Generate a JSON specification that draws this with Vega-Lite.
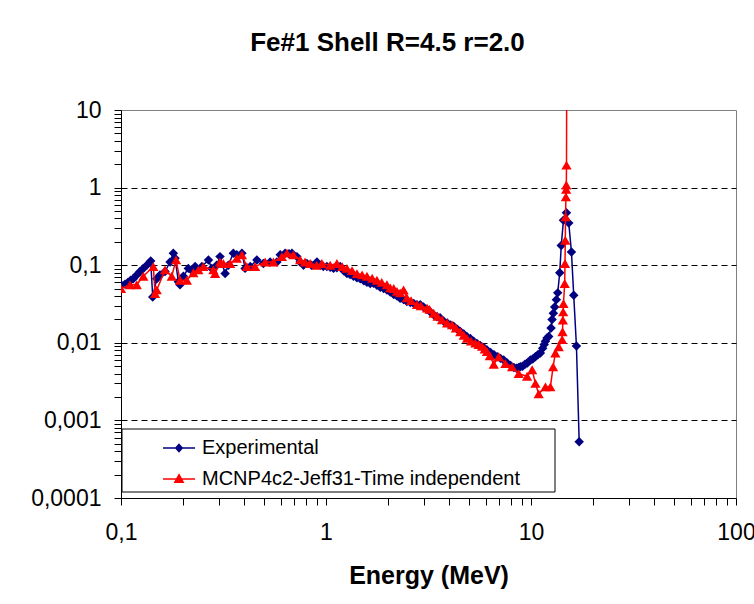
{
  "$schema": "https://vega.github.io/schema/vega-lite/v6.json",
  "width": 615,
  "height": 388,
  "autosize": {"type": "none"},
  "padding": {"left": 121, "top": 110, "right": 18, "bottom": 106},
  "background": "#ffffff",
  "config": {
    "view": {"stroke": "#808080", "strokeWidth": 1},
    "font": "Liberation Sans"
  },
  "title": {
    "text": "Fe#1 Shell R=4.5 r=2.0",
    "font": "Liberation Sans",
    "fontSize": 26,
    "fontWeight": "bold",
    "color": "#000000",
    "anchor": "middle",
    "baseline": "alphabetic",
    "dx": -41,
    "offset": 22
  },
  "datasets": {
    "exp": [
      {"series":"Experimental","E":0.1,"v":0.056},{"series":"Experimental","E":0.1046,"v":0.057},{"series":"Experimental","E":0.108,"v":0.06},{"series":"Experimental","E":0.1115,"v":0.064},{"series":"Experimental","E":0.1148,"v":0.067},{"series":"Experimental","E":0.119,"v":0.074},{"series":"Experimental","E":0.1238,"v":0.083},{"series":"Experimental","E":0.128,"v":0.09},{"series":"Experimental","E":0.1335,"v":0.1},{"series":"Experimental","E":0.1396,"v":0.113},{"series":"Experimental","E":0.1428,"v":0.039},{"series":"Experimental","E":0.1494,"v":0.067},{"series":"Experimental","E":0.155,"v":0.075},{"series":"Experimental","E":0.164,"v":0.083},{"series":"Experimental","E":0.1735,"v":0.11},{"series":"Experimental","E":0.18,"v":0.143},{"series":"Experimental","E":0.1835,"v":0.123},{"series":"Experimental","E":0.1905,"v":0.061},{"series":"Experimental","E":0.194,"v":0.056},{"series":"Experimental","E":0.2015,"v":0.072},{"series":"Experimental","E":0.213,"v":0.091},{"series":"Experimental","E":0.222,"v":0.085},{"series":"Experimental","E":0.23,"v":0.096},{"series":"Experimental","E":0.248,"v":0.096},{"series":"Experimental","E":0.267,"v":0.117},{"series":"Experimental","E":0.277,"v":0.091},{"series":"Experimental","E":0.293,"v":0.1},{"series":"Experimental","E":0.304,"v":0.129},{"series":"Experimental","E":0.322,"v":0.078},{"series":"Experimental","E":0.334,"v":0.1},{"series":"Experimental","E":0.353,"v":0.143},{"series":"Experimental","E":0.367,"v":0.136},{"series":"Experimental","E":0.389,"v":0.143},{"series":"Experimental","E":0.403,"v":0.091},{"series":"Experimental","E":0.427,"v":0.096},{"series":"Experimental","E":0.46,"v":0.117},{"series":"Experimental","E":0.495,"v":0.105},{"series":"Experimental","E":0.534,"v":0.11},{"series":"Experimental","E":0.576,"v":0.11},{"series":"Experimental","E":0.598,"v":0.136},{"series":"Experimental","E":0.632,"v":0.143},{"series":"Experimental","E":0.66,"v":0.14},{"series":"Experimental","E":0.682,"v":0.143},{"series":"Experimental","E":0.721,"v":0.129},{"series":"Experimental","E":0.748,"v":0.11},{"series":"Experimental","E":0.777,"v":0.1},{"series":"Experimental","E":0.807,"v":0.105},{"series":"Experimental","E":0.85,"v":0.1},{"series":"Experimental","E":0.903,"v":0.11},{"series":"Experimental","E":0.937,"v":0.1},{"series":"Experimental","E":0.97,"v":0.096},{"series":"Experimental","E":1.01,"v":0.096},{"series":"Experimental","E":1.048,"v":0.094},{"series":"Experimental","E":1.088,"v":0.091},{"series":"Experimental","E":1.13,"v":0.093},{"series":"Experimental","E":1.173,"v":0.096},{"series":"Experimental","E":1.22,"v":0.085},{"series":"Experimental","E":1.265,"v":0.078},{"series":"Experimental","E":1.31,"v":0.076},{"series":"Experimental","E":1.362,"v":0.072},{"series":"Experimental","E":1.416,"v":0.069},{"series":"Experimental","E":1.469,"v":0.067},{"series":"Experimental","E":1.53,"v":0.063},{"series":"Experimental","E":1.584,"v":0.0605},{"series":"Experimental","E":1.644,"v":0.058},{"series":"Experimental","E":1.706,"v":0.0585},{"series":"Experimental","E":1.772,"v":0.055},{"series":"Experimental","E":1.839,"v":0.052},{"series":"Experimental","E":1.91,"v":0.05},{"series":"Experimental","E":1.983,"v":0.048},{"series":"Experimental","E":2.058,"v":0.045},{"series":"Experimental","E":2.14,"v":0.042},{"series":"Experimental","E":2.22,"v":0.04},{"series":"Experimental","E":2.3,"v":0.0376},{"series":"Experimental","E":2.39,"v":0.036},{"series":"Experimental","E":2.48,"v":0.034},{"series":"Experimental","E":2.58,"v":0.033},{"series":"Experimental","E":2.68,"v":0.032},{"series":"Experimental","E":2.78,"v":0.031},{"series":"Experimental","E":2.884,"v":0.031},{"series":"Experimental","E":2.99,"v":0.029},{"series":"Experimental","E":3.11,"v":0.027},{"series":"Experimental","E":3.23,"v":0.025},{"series":"Experimental","E":3.35,"v":0.023},{"series":"Experimental","E":3.48,"v":0.0216},{"series":"Experimental","E":3.6,"v":0.021},{"series":"Experimental","E":3.75,"v":0.019},{"series":"Experimental","E":3.9,"v":0.018},{"series":"Experimental","E":4.05,"v":0.017},{"series":"Experimental","E":4.195,"v":0.0163},{"series":"Experimental","E":4.37,"v":0.015},{"series":"Experimental","E":4.52,"v":0.014},{"series":"Experimental","E":4.7,"v":0.013},{"series":"Experimental","E":4.875,"v":0.012},{"series":"Experimental","E":5.06,"v":0.0114},{"series":"Experimental","E":5.25,"v":0.0105},{"series":"Experimental","E":5.45,"v":0.0098},{"series":"Experimental","E":5.65,"v":0.0092},{"series":"Experimental","E":5.88,"v":0.0087},{"series":"Experimental","E":6.1,"v":0.0081},{"series":"Experimental","E":6.35,"v":0.0075},{"series":"Experimental","E":6.6,"v":0.007},{"series":"Experimental","E":6.85,"v":0.0066},{"series":"Experimental","E":7.1,"v":0.0063},{"series":"Experimental","E":7.36,"v":0.006},{"series":"Experimental","E":7.65,"v":0.0055},{"series":"Experimental","E":7.95,"v":0.0051},{"series":"Experimental","E":8.25,"v":0.0048},{"series":"Experimental","E":8.5,"v":0.0047},{"series":"Experimental","E":8.71,"v":0.0048},{"series":"Experimental","E":8.88,"v":0.0049},{"series":"Experimental","E":9.1,"v":0.005},{"series":"Experimental","E":9.35,"v":0.0053},{"series":"Experimental","E":9.6,"v":0.0055},{"series":"Experimental","E":9.93,"v":0.006},{"series":"Experimental","E":10.2,"v":0.0062},{"series":"Experimental","E":10.5,"v":0.0066},{"series":"Experimental","E":10.8,"v":0.007},{"series":"Experimental","E":11.11,"v":0.0074},{"series":"Experimental","E":11.4,"v":0.0085},{"series":"Experimental","E":11.6,"v":0.0095},{"series":"Experimental","E":11.76,"v":0.0105},{"series":"Experimental","E":11.98,"v":0.0115},{"series":"Experimental","E":12.2,"v":0.0121},{"series":"Experimental","E":12.53,"v":0.0155},{"series":"Experimental","E":12.67,"v":0.02},{"series":"Experimental","E":12.85,"v":0.024},{"series":"Experimental","E":13.05,"v":0.029},{"series":"Experimental","E":13.3,"v":0.036},{"series":"Experimental","E":13.5,"v":0.044},{"series":"Experimental","E":13.81,"v":0.08},{"series":"Experimental","E":14.05,"v":0.18},{"series":"Experimental","E":14.4,"v":0.38},{"series":"Experimental","E":14.89,"v":0.475},{"series":"Experimental","E":15.28,"v":0.35},{"series":"Experimental","E":15.75,"v":0.148},{"series":"Experimental","E":16.16,"v":0.041},{"series":"Experimental","E":16.66,"v":0.0091},{"series":"Experimental","E":17.18,"v":0.00053}
    ],
    "mc": [
      {"series":"MCNP4c2-Jeff31-Time independent","E":0.1,"v":0.05},{"series":"MCNP4c2-Jeff31-Time independent","E":0.1106,"v":0.056},{"series":"MCNP4c2-Jeff31-Time independent","E":0.1193,"v":0.056},{"series":"MCNP4c2-Jeff31-Time independent","E":0.1285,"v":0.072},{"series":"MCNP4c2-Jeff31-Time independent","E":0.1438,"v":0.096},{"series":"MCNP4c2-Jeff31-Time independent","E":0.1466,"v":0.043},{"series":"MCNP4c2-Jeff31-Time independent","E":0.1494,"v":0.048},{"series":"MCNP4c2-Jeff31-Time independent","E":0.164,"v":0.087},{"series":"MCNP4c2-Jeff31-Time independent","E":0.1768,"v":0.072},{"series":"MCNP4c2-Jeff31-Time independent","E":0.1856,"v":0.117},{"series":"MCNP4c2-Jeff31-Time independent","E":0.194,"v":0.064},{"series":"MCNP4c2-Jeff31-Time independent","E":0.2094,"v":0.064},{"series":"MCNP4c2-Jeff31-Time independent","E":0.2254,"v":0.08},{"series":"MCNP4c2-Jeff31-Time independent","E":0.2385,"v":0.087},{"series":"MCNP4c2-Jeff31-Time independent","E":0.2522,"v":0.096},{"series":"MCNP4c2-Jeff31-Time independent","E":0.2823,"v":0.087},{"series":"MCNP4c2-Jeff31-Time independent","E":0.2877,"v":0.078},{"series":"MCNP4c2-Jeff31-Time independent","E":0.304,"v":0.11},{"series":"MCNP4c2-Jeff31-Time independent","E":0.3158,"v":0.105},{"series":"MCNP4c2-Jeff31-Time independent","E":0.3406,"v":0.105},{"series":"MCNP4c2-Jeff31-Time independent","E":0.367,"v":0.123},{"series":"MCNP4c2-Jeff31-Time independent","E":0.389,"v":0.136},{"series":"MCNP4c2-Jeff31-Time independent","E":0.411,"v":0.096},{"series":"MCNP4c2-Jeff31-Time independent","E":0.451,"v":0.096},{"series":"MCNP4c2-Jeff31-Time independent","E":0.505,"v":0.11},{"series":"MCNP4c2-Jeff31-Time independent","E":0.554,"v":0.11},{"series":"MCNP4c2-Jeff31-Time independent","E":0.609,"v":0.129},{"series":"MCNP4c2-Jeff31-Time independent","E":0.645,"v":0.143},{"series":"MCNP4c2-Jeff31-Time independent","E":0.694,"v":0.136},{"series":"MCNP4c2-Jeff31-Time independent","E":0.748,"v":0.117},{"series":"MCNP4c2-Jeff31-Time independent","E":0.79,"v":0.11},{"series":"MCNP4c2-Jeff31-Time independent","E":0.837,"v":0.105},{"series":"MCNP4c2-Jeff31-Time independent","E":0.9,"v":0.1},{"series":"MCNP4c2-Jeff31-Time independent","E":0.955,"v":0.105},{"series":"MCNP4c2-Jeff31-Time independent","E":1.048,"v":0.1},{"series":"MCNP4c2-Jeff31-Time independent","E":1.13,"v":0.105},{"series":"MCNP4c2-Jeff31-Time independent","E":1.2,"v":0.096},{"series":"MCNP4c2-Jeff31-Time independent","E":1.265,"v":0.091},{"series":"MCNP4c2-Jeff31-Time independent","E":1.34,"v":0.085},{"series":"MCNP4c2-Jeff31-Time independent","E":1.416,"v":0.078},{"series":"MCNP4c2-Jeff31-Time independent","E":1.5,"v":0.075},{"series":"MCNP4c2-Jeff31-Time independent","E":1.584,"v":0.072},{"series":"MCNP4c2-Jeff31-Time independent","E":1.68,"v":0.068},{"series":"MCNP4c2-Jeff31-Time independent","E":1.772,"v":0.064},{"series":"MCNP4c2-Jeff31-Time independent","E":1.87,"v":0.06},{"series":"MCNP4c2-Jeff31-Time independent","E":1.983,"v":0.056},{"series":"MCNP4c2-Jeff31-Time independent","E":2.058,"v":0.051},{"series":"MCNP4c2-Jeff31-Time independent","E":2.14,"v":0.05},{"series":"MCNP4c2-Jeff31-Time independent","E":2.22,"v":0.046},{"series":"MCNP4c2-Jeff31-Time independent","E":2.3,"v":0.044},{"series":"MCNP4c2-Jeff31-Time independent","E":2.39,"v":0.048},{"series":"MCNP4c2-Jeff31-Time independent","E":2.48,"v":0.038},{"series":"MCNP4c2-Jeff31-Time independent","E":2.6,"v":0.035},{"series":"MCNP4c2-Jeff31-Time independent","E":2.78,"v":0.031},{"series":"MCNP4c2-Jeff31-Time independent","E":2.9,"v":0.03},{"series":"MCNP4c2-Jeff31-Time independent","E":3.11,"v":0.028},{"series":"MCNP4c2-Jeff31-Time independent","E":3.2,"v":0.027},{"series":"MCNP4c2-Jeff31-Time independent","E":3.35,"v":0.024},{"series":"MCNP4c2-Jeff31-Time independent","E":3.5,"v":0.022},{"series":"MCNP4c2-Jeff31-Time independent","E":3.68,"v":0.0198},{"series":"MCNP4c2-Jeff31-Time independent","E":3.9,"v":0.018},{"series":"MCNP4c2-Jeff31-Time independent","E":4.12,"v":0.017},{"series":"MCNP4c2-Jeff31-Time independent","E":4.3,"v":0.0155},{"series":"MCNP4c2-Jeff31-Time independent","E":4.52,"v":0.0139},{"series":"MCNP4c2-Jeff31-Time independent","E":4.7,"v":0.0125},{"series":"MCNP4c2-Jeff31-Time independent","E":4.875,"v":0.0114},{"series":"MCNP4c2-Jeff31-Time independent","E":5.1,"v":0.0105},{"series":"MCNP4c2-Jeff31-Time independent","E":5.35,"v":0.0099},{"series":"MCNP4c2-Jeff31-Time independent","E":5.55,"v":0.0095},{"series":"MCNP4c2-Jeff31-Time independent","E":5.77,"v":0.009},{"series":"MCNP4c2-Jeff31-Time independent","E":5.95,"v":0.0083},{"series":"MCNP4c2-Jeff31-Time independent","E":6.1,"v":0.0077},{"series":"MCNP4c2-Jeff31-Time independent","E":6.3,"v":0.0068},{"series":"MCNP4c2-Jeff31-Time independent","E":6.58,"v":0.0053},{"series":"MCNP4c2-Jeff31-Time independent","E":6.96,"v":0.0066},{"series":"MCNP4c2-Jeff31-Time independent","E":7.5,"v":0.0054},{"series":"MCNP4c2-Jeff31-Time independent","E":8.09,"v":0.0049},{"series":"MCNP4c2-Jeff31-Time independent","E":8.71,"v":0.004},{"series":"MCNP4c2-Jeff31-Time independent","E":9.57,"v":0.0037},{"series":"MCNP4c2-Jeff31-Time independent","E":10.13,"v":0.0045},{"series":"MCNP4c2-Jeff31-Time independent","E":10.51,"v":0.003},{"series":"MCNP4c2-Jeff31-Time independent","E":10.9,"v":0.0022},{"series":"MCNP4c2-Jeff31-Time independent","E":11.76,"v":0.0027},{"series":"MCNP4c2-Jeff31-Time independent","E":12.43,"v":0.0027},{"series":"MCNP4c2-Jeff31-Time independent","E":12.82,"v":0.0049},{"series":"MCNP4c2-Jeff31-Time independent","E":13.15,"v":0.0074},{"series":"MCNP4c2-Jeff31-Time independent","E":13.65,"v":0.0089},{"series":"MCNP4c2-Jeff31-Time independent","E":14.19,"v":0.011},{"series":"MCNP4c2-Jeff31-Time independent","E":14.25,"v":0.0139},{"series":"MCNP4c2-Jeff31-Time independent","E":14.3,"v":0.0196},{"series":"MCNP4c2-Jeff31-Time independent","E":14.35,"v":0.025},{"series":"MCNP4c2-Jeff31-Time independent","E":14.4,"v":0.032},{"series":"MCNP4c2-Jeff31-Time independent","E":14.6,"v":0.058},{"series":"MCNP4c2-Jeff31-Time independent","E":14.65,"v":0.105},{"series":"MCNP4c2-Jeff31-Time independent","E":14.7,"v":0.21},{"series":"MCNP4c2-Jeff31-Time independent","E":14.75,"v":0.42},{"series":"MCNP4c2-Jeff31-Time independent","E":14.8,"v":0.76},{"series":"MCNP4c2-Jeff31-Time independent","E":14.85,"v":0.95},{"series":"MCNP4c2-Jeff31-Time independent","E":14.87,"v":1.08},{"series":"MCNP4c2-Jeff31-Time independent","E":14.9,"v":1.95},{"series":"MCNP4c2-Jeff31-Time independent","E":14.95,"v":100}
    ]
  },
  "encoding": {
    "x": {
      "field": "E",
      "type": "quantitative",
      "scale": {"type": "log", "domain": [0.1, 100], "nice": false},
      "axis": {
        "values": [0.1,0.2,0.3,0.4,0.5,0.6,0.7,0.8,0.9,1,2,3,4,5,6,7,8,9,10,20,30,40,50,60,70,80,90,100],
        "labelExpr": "indexof([0.1,1,10,100], datum.value) >= 0 ? replace(toString(datum.value), '.', ',') : ''",
        "title": "Energy (MeV)",
        "titleFont": "Liberation Sans",
        "titleFontSize": 25,
        "titleFontWeight": "bold",
        "titleColor": "#000000",
        "titlePadding": 19,
        "labelFont": "Liberation Sans",
        "labelFontSize": 23,
        "labelColor": "#000000",
        "labelPadding": 16,
        "labelOverlap": false,
        "labelBound": false,
        "labelFlush": false,
        "tickSize": 7,
        "tickColor": "#000000",
        "tickWidth": 1,
        "domainColor": "#000000",
        "domainWidth": 1,
        "grid": false,
        "encode": {
          "ticks": {
            "update": {
              "y": {"signal": "-6"},
              "y2": {"signal": "indexof([0.1,1,10,100], datum.value) >= 0 ? 7 : 0"}
            }
          }
        }
      }
    },
    "y": {
      "field": "v",
      "type": "quantitative",
      "scale": {"type": "log", "domain": [0.0001, 10], "nice": false},
      "axis": {
        "values": [0.0001,0.0002,0.0003,0.0004,0.0005,0.0006,0.0007,0.0008,0.0009,0.001,0.002,0.003,0.004,0.005,0.006,0.007,0.008,0.009,0.01,0.02,0.03,0.04,0.05,0.06,0.07,0.08,0.09,0.1,0.2,0.3,0.4,0.5,0.6,0.7,0.8,0.9,1,2,3,4,5,6,7,8,9,10],
        "labelExpr": "indexof([0.0001,0.001,0.01,0.1,1,10], datum.value) >= 0 ? replace(toString(datum.value), '.', ',') : ''",
        "title": null,
        "labelFont": "Liberation Sans",
        "labelFontSize": 23,
        "labelColor": "#000000",
        "labelPadding": 13,
        "labelOverlap": false,
        "labelBound": false,
        "labelFlush": false,
        "tickSize": 7,
        "tickColor": "#000000",
        "tickWidth": 1,
        "domainColor": "#000000",
        "domainWidth": 1,
        "grid": true,
        "gridColor": "#000000",
        "gridWidth": 1,
        "gridDash": [6, 4],
        "gridOpacity": {"condition": {"test": "indexof([0.001,0.01,0.1,1], datum.value) >= 0", "value": 1}, "value": 0},
        "encode": {
          "ticks": {
            "update": {
              "x": {"signal": "indexof([0.0001,0.001,0.01,0.1,1,10], datum.value) >= 0 ? 7 : 6"},
              "x2": {"signal": "indexof([0.0001,0.001,0.01,0.1,1,10], datum.value) >= 0 ? -7 : 0"}
            }
          }
        }
      }
    },
    "color": {
      "field": "series",
      "type": "nominal",
      "scale": {"domain": ["Experimental", "MCNP4c2-Jeff31-Time independent"], "range": ["#000080", "#FF0000"]},
      "legend": {
        "orient": "none",
        "legendX": 0.5,
        "legendY": 318.5,
        "title": null,
        "direction": "vertical",
        "strokeColor": "#000000",
        "fillColor": "#ffffff",
        "padding": 2.5,
        "rowPadding": 4,
        "symbolOffset": 38,
        "labelOffset": 6,
        "symbolSize": 1024,
        "labelFont": "Liberation Sans",
        "labelFontSize": 20,
        "labelColor": "#000000",
        "labelLimit": 0,
        "encode": {
          "symbols": {
            "update": {
              "shape": {"signal": "datum.value == 'Experimental' ? 'M-1,0H1M0,-0.22L0.2,0L0,0.22L-0.2,0ZM23.1,0' : 'M-1,0H1M0,-0.27L0.26,0.2L-0.26,0.2ZM23.1,0'"},
              "fill": {"signal": "datum.value == 'Experimental' ? '#000080' : '#FF0000'"},
              "stroke": {"signal": "datum.value == 'Experimental' ? '#000080' : '#FF0000'"},
              "strokeWidth": {"value": 1.5},
              "size": {"value": 1024},
              "opacity": {"value": 1},
              "fillOpacity": {"value": 1},
              "strokeOpacity": {"value": 1}
            }
          }
        }
      }
    }
  },
  "layer": [
    {
      "data": {"name": "exp"},
      "mark": {"type": "line", "strokeWidth": 1.5, "clip": true}
    },
    {
      "data": {"name": "exp"},
      "mark": {"type": "point", "shape": "diamond", "filled": true, "size": 90, "opacity": 1, "clip": true}
    },
    {
      "data": {"name": "mc"},
      "mark": {"type": "line", "strokeWidth": 1.5, "clip": true}
    },
    {
      "data": {"name": "mc"},
      "mark": {"type": "point", "shape": "triangle-up", "filled": true, "size": 105, "opacity": 1, "clip": true}
    }
  ]
}
